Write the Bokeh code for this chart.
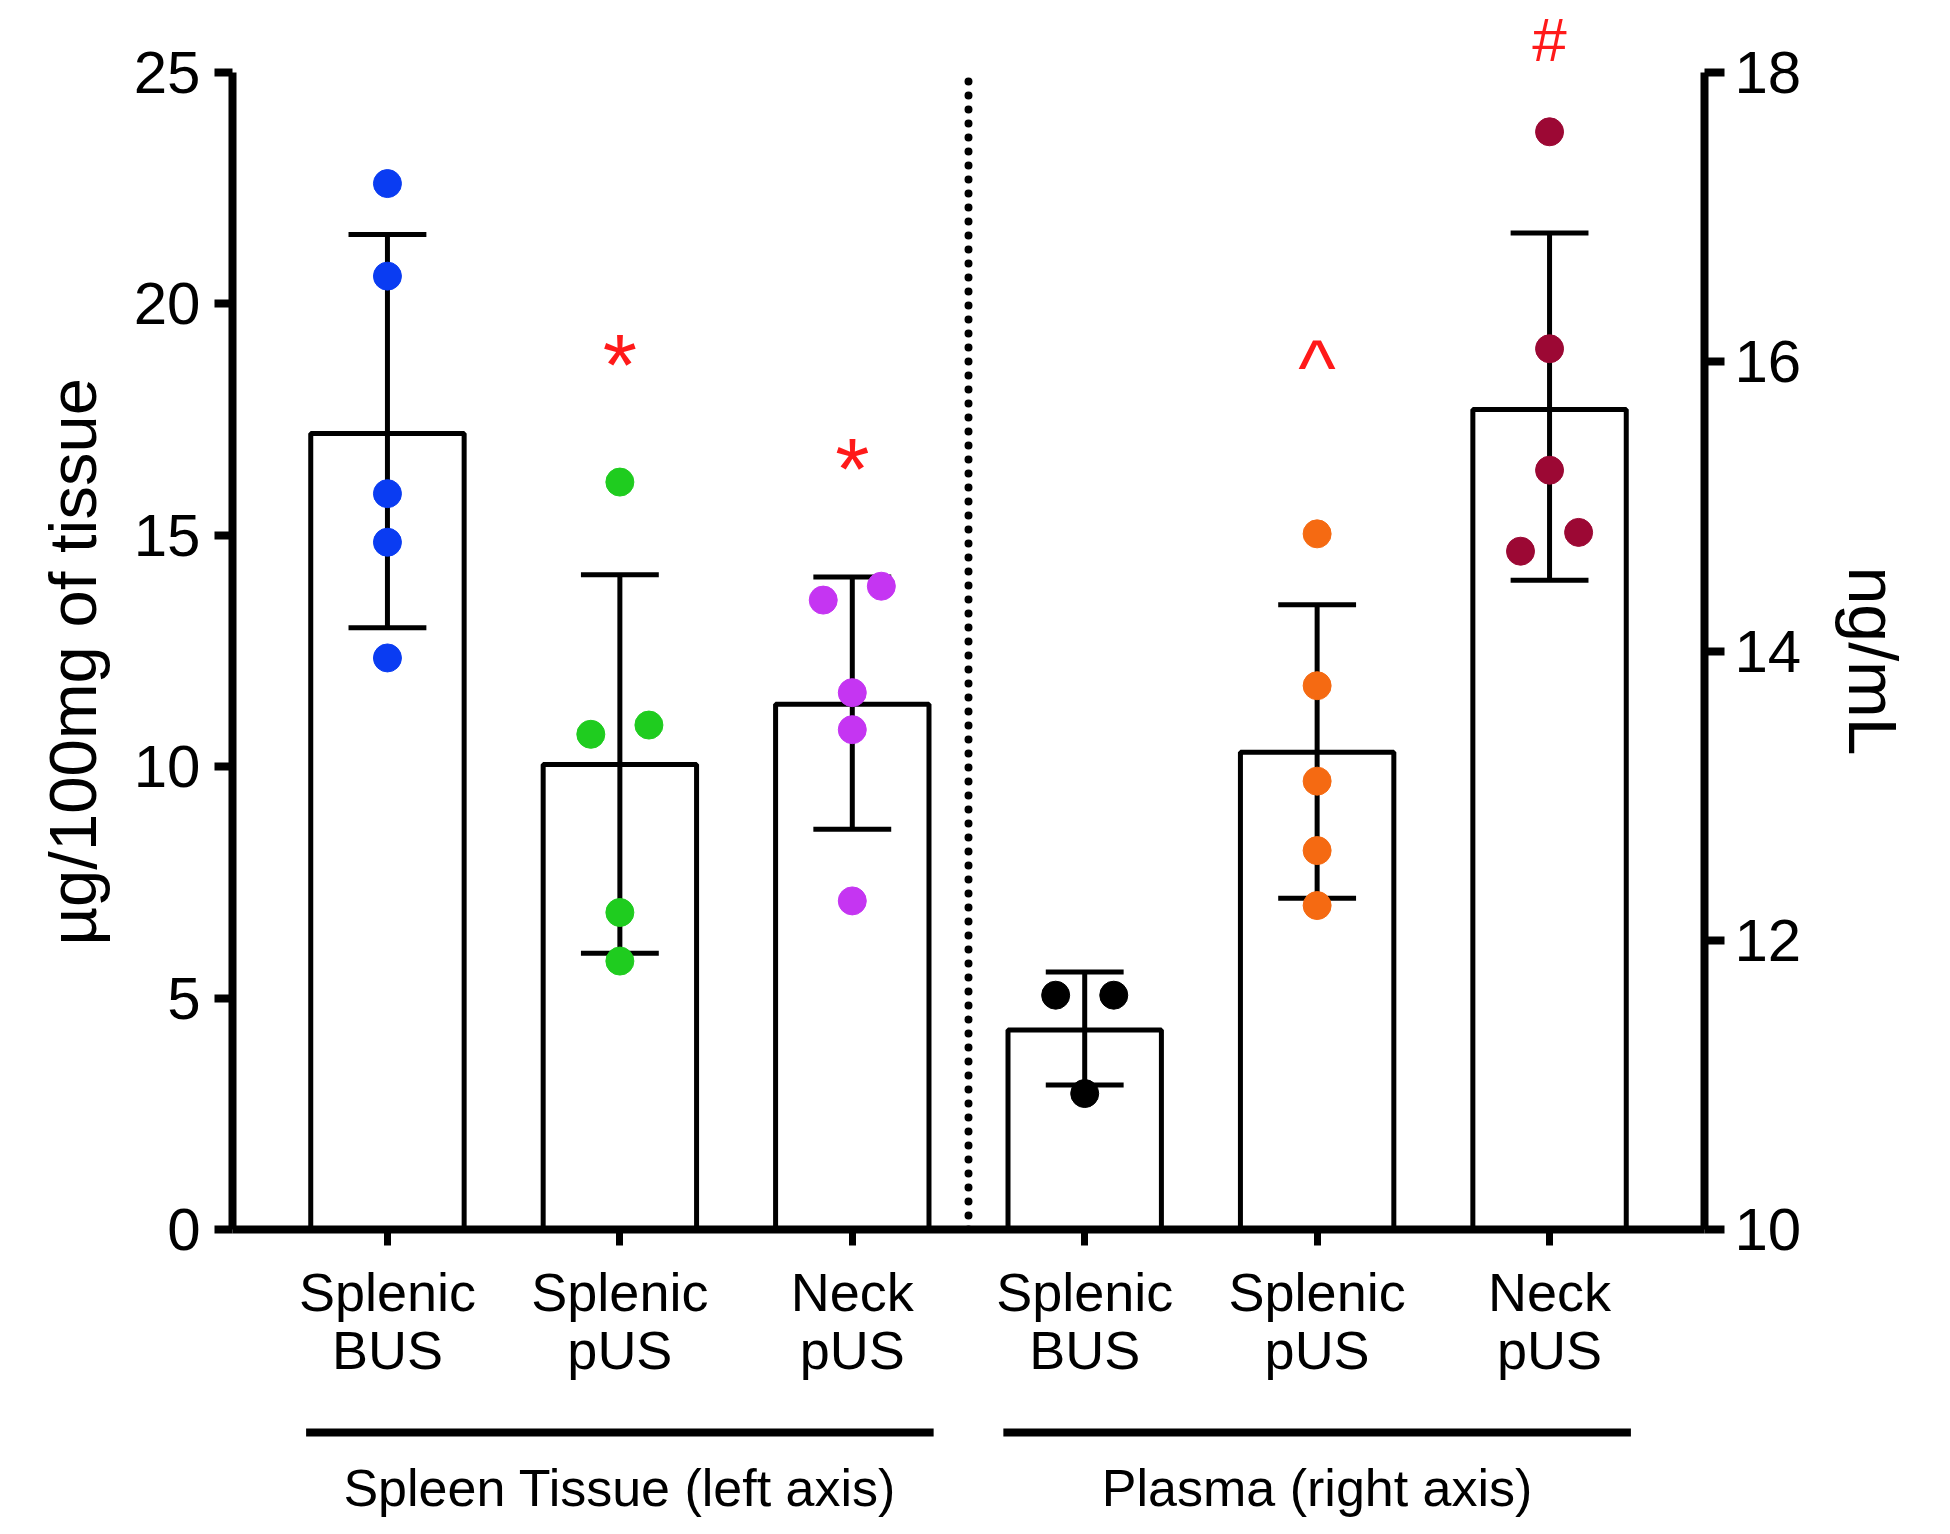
from bokeh.plotting import figure
from bokeh.models import Range1d, LinearAxis, FixedTicker, Label, Title
from bokeh.layouts import column
from bokeh.core.properties import value
from bokeh.embed import file_html
from bokeh.resources import INLINE

# ---------------- data ----------------
category_labels = ["Splenic\nBUS", "Splenic\npUS", "Neck\npUS",
                   "Splenic\nBUS", "Splenic\npUS", "Neck\npUS"]
group_labels = ["Spleen Tissue (left axis)", "Plasma (right axis)"]
left_title = "µg/100mg of tissue"
right_title = "ng/mL"
left_ticks = [0, 5, 10, 15, 20, 25]
right_ticks = [10, 12, 14, 16, 18]

# Spleen tissue (left axis, ug/100mg of tissue)
tissue_mean = [17.2, 10.05, 11.35]
tissue_upper = [21.5, 14.15, 14.1]
tissue_lower = [13.0, 5.97, 8.65]
tissue_points = [
    [22.6, 20.6, 15.9, 14.85, 12.35],
    [16.15, 10.7, 10.9, 6.85, 5.8],
    [13.6, 13.9, 11.6, 10.8, 7.1],
]
tissue_jitter = [
    [0, 0, 0, 0, 0],
    [0, -1, 1, 0, 0],
    [-1, 1, 0, 0, 0],
]

# Plasma (right axis, ng/mL)
plasma_mean = [11.38, 13.3, 15.67]
plasma_upper = [11.78, 14.32, 16.89]
plasma_lower = [11.0, 12.29, 14.49]
plasma_points = [
    [11.62, 11.62, 10.94],
    [14.81, 13.76, 13.10, 12.62, 12.24],
    [17.59, 16.09, 15.25, 14.82, 14.69],
]
plasma_jitter = [
    [-1, 1, 0],
    [0, 0, 0, 0, 0],
    [0, 0, 0, 1, -1],
]

# significance marks
tissue_marks = ["*", "*"]
tissue_mark_cat = [2, 3]
tissue_mark_y = [19.0, 16.75]
plasma_marks = ["^", "#"]
plasma_mark_cat = [5, 6]
plasma_mark_y = [16.03, 18.24]

# ---------------- style ----------------
FONT = "Liberation Sans"
point_colors = ["#0a3cf2", "#1fcc1f", "#c535f2", "#000000", "#f56a12", "#9c0834"]
MARK_RED = "#ff1a1a"
BAR_W = 0.66
CAP_W = 0.335
JIT = 0.125
LW = 5
HEAD_FRAC = 62 / 1157   # headroom above the axis tops (room for the '#')

positions = [1, 2, 3, 4, 5, 6]
xr = Range1d(1 / 3, 6 + 2 / 3)

l_lo, l_hi = left_ticks[0], left_ticks[-1]
r_lo, r_hi = right_ticks[0], right_ticks[-1]

p = figure(width=1942, height=1414, x_range=xr,
           y_range=Range1d(l_lo, l_lo + (l_hi - l_lo) * (1 + HEAD_FRAC)),
           output_backend="svg", toolbar_location=None,
           min_border_left=232, min_border_right=236,
           min_border_top=10, min_border_bottom=185)
p.extra_y_ranges = {"right": Range1d(r_lo, r_lo + (r_hi - r_lo) * (1 + HEAD_FRAC))}
p.outline_line_color = None
p.grid.visible = False
p.background_fill_color = "white"

# dotted separator between the two groups
p.segment(x0=[3.5], x1=[3.5], y0=[l_lo], y1=[l_hi], line_color="black",
          line_width=8, line_dash="0 14", line_cap="round")

# bars
left_x = positions[:3]
right_x = positions[3:]
p.vbar(x=left_x, top=tissue_mean, bottom=l_lo, width=BAR_W,
       fill_color="white", line_color="black", line_width=LW)
p.vbar(x=right_x, top=plasma_mean, bottom=r_lo, width=BAR_W,
       fill_color="white", line_color="black", line_width=LW,
       y_range_name="right")

# error bars
def err(xs, lo, hi, rng):
    kw = {} if rng is None else {"y_range_name": rng}
    p.segment(x0=xs, x1=xs, y0=lo, y1=hi, line_color="black", line_width=LW, **kw)
    p.segment(x0=[x - CAP_W / 2 for x in xs], x1=[x + CAP_W / 2 for x in xs],
              y0=hi, y1=hi, line_color="black", line_width=LW, **kw)
    p.segment(x0=[x - CAP_W / 2 for x in xs], x1=[x + CAP_W / 2 for x in xs],
              y0=lo, y1=lo, line_color="black", line_width=LW, **kw)

err(left_x, tissue_lower, tissue_upper, None)
err(right_x, plasma_lower, plasma_upper, "right")

# points
def pts(xs, pts_list, jit_list, cols, rng):
    X, Y, C = [], [], []
    for x, ys, js, c in zip(xs, pts_list, jit_list, cols):
        for yv, j in zip(ys, js):
            X.append(x + j * JIT)
            Y.append(yv)
            C.append(c)
    kw = {} if rng is None else {"y_range_name": rng}
    p.scatter(x=X, y=Y, size=28, fill_color=C, line_color=C, **kw)

pts(left_x, tissue_points, tissue_jitter, point_colors[:3], None)
pts(right_x, plasma_points, plasma_jitter, point_colors[3:], "right")

# significance marks
mark_style = {"*": ("88px", -14), "^": ("80px", -10), "#": ("62px", -2)}
for xm, ym, t in zip(tissue_mark_cat, tissue_mark_y, tissue_marks):
    fs, off = mark_style[t]
    p.add_layout(Label(x=xm, y=ym, text=t, text_align="center",
                       text_baseline="middle", text_color=MARK_RED,
                       text_font=FONT, text_font_size=fs, y_offset=off))
for xm, ym, t in zip(plasma_mark_cat, plasma_mark_y, plasma_marks):
    fs, off = mark_style[t]
    p.add_layout(Label(x=xm, y=ym, text=t, text_align="center",
                       text_baseline="middle", text_color=MARK_RED,
                       text_font=FONT, text_font_size=fs, y_offset=off,
                       y_range_name="right"))

# axes
def style_axis(ax):
    ax.axis_line_width = 8
    ax.axis_line_color = "black"
    ax.major_tick_line_width = 8
    ax.major_tick_line_color = "black"
    ax.major_tick_in = 0
    ax.minor_tick_line_color = None
    ax.major_label_text_font = FONT
    ax.major_label_text_color = "black"

yl = p.yaxis[0]
style_axis(yl)
yl.ticker = FixedTicker(ticks=left_ticks)
yl.bounds = (l_lo, l_hi)
yl.major_tick_out = 18
yl.major_label_standoff = 14
yl.major_label_text_font_size = "60px"

yr = LinearAxis(y_range_name="right", ticker=FixedTicker(ticks=right_ticks))
style_axis(yr)
yr.bounds = (r_lo, r_hi)
yr.major_tick_out = 20
yr.major_label_standoff = 10
yr.major_label_text_font_size = "60px"
p.add_layout(yr, "right")

# axis titles (side titles, placed along the axis span)
p.add_layout(Title(text=left_title, align="left", offset=284, standoff=42,
                   text_font=FONT, text_font_size="67px", text_font_style="normal",
                   text_line_height=1.0, text_color="black"), "left")
p.add_layout(Title(text=right_title, align="left", offset=556, standoff=60,
                   text_font=FONT, text_font_size="68px", text_font_style="normal",
                   text_line_height=1.0, text_color="black"), "right")

xa = p.xaxis[0]
style_axis(xa)
xa.ticker = FixedTicker(ticks=positions)
xa.major_label_overrides = {pos: lab for pos, lab in zip(positions, category_labels)}
xa.major_tick_out = 16
xa.major_tick_line_width = 7
xa.major_label_standoff = 16
xa.major_label_text_font_size = "54px"
xa.major_label_text_line_height = 0.98

# group lines and labels (below)
p2 = figure(width=1942, height=112, x_range=xr, y_range=Range1d(112, 0),
            output_backend="svg", toolbar_location=None,
            min_border_left=232, min_border_right=236,
            min_border_top=0, min_border_bottom=0)
p2.axis.visible = False
p2.grid.visible = False
p2.outline_line_color = None
groups = [positions[:3], positions[3:]]
p2.segment(x0=[g[0] - 0.35 for g in groups], x1=[g[-1] + 0.35 for g in groups],
           y0=18, y1=18, line_color="black", line_width=8)
p2.text(x=[sum(g) / len(g) for g in groups], y=[73, 73], text=group_labels,
        text_align="center", text_baseline="middle", text_color="black",
        text_font=value(FONT), text_font_size="52px")

layout = column(p, p2, spacing=0)
open("out.html", "w").write(file_html(layout, INLINE))
